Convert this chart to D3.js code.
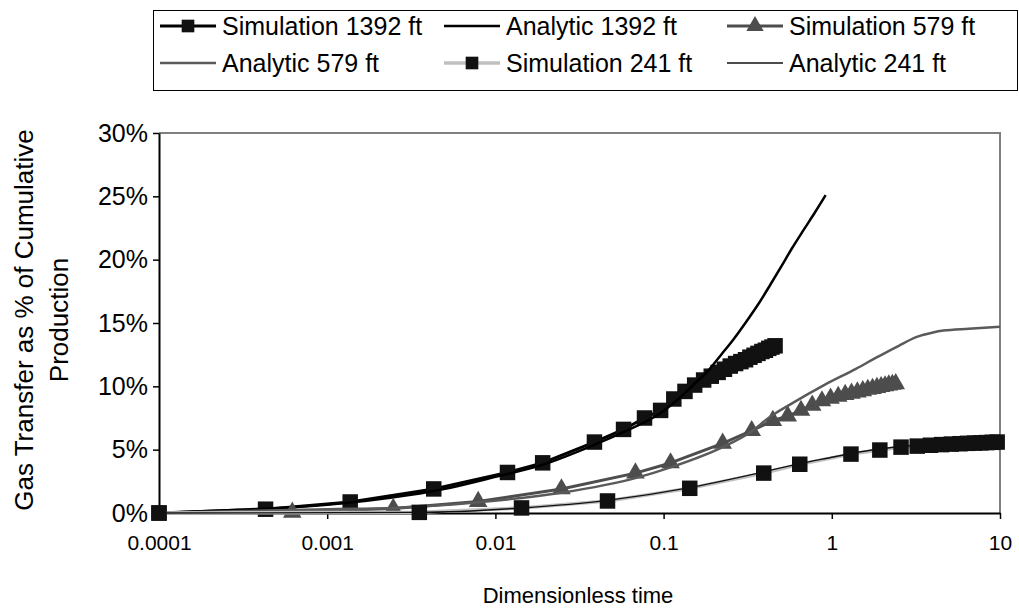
<!DOCTYPE html>
<html>
<head>
<meta charset="utf-8">
<script src="https://cdn.jsdelivr.net/npm/d3@7"></script>
<style>
    body { margin: 0; background: #fff; }
    text { font-family: "Liberation Sans", Arial, sans-serif; fill: #000; }
</style>
</head>
<body>
<svg id="chart" width="1019" height="610"></svg>
<script>
// values (time is dimensionless, y in %)
const xTicks = [0.0001, 0.001, 0.01, 0.1, 1, 10];
const xTickLabels = ["0.0001", "0.001", "0.01", "0.1", "1", "10"];
const yTicks = [0, 5, 10, 15, 20, 25, 30];

const sim1392T = [0.0001, 0.00043, 0.00137, 0.0043, 0.0118, 0.0191, 0.0388, 0.0578, 0.077, 0.096,
    0.115, 0.134, 0.153, 0.173, 0.192, 0.211, 0.230, 0.249, 0.268, 0.288, 0.307, 0.326, 0.345,
    0.364, 0.384, 0.403, 0.422, 0.441, 0.46];
const sim1392V = [0, 0.3, 0.87, 1.9, 3.2, 3.96, 5.6, 6.6, 7.5, 8.1,
    9.0, 9.6, 10.1, 10.5, 10.8, 11.1, 11.35, 11.6, 11.8, 11.95, 12.1, 12.3, 12.45,
    12.6, 12.75, 12.85, 13.0, 13.1, 13.2];

const ana1392T = [0.0001, 0.0003, 0.001, 0.003, 0.0054, 0.01, 0.019, 0.039, 0.058, 0.096, 0.12, 0.15,
    0.183, 0.22, 0.26, 0.31, 0.366, 0.43, 0.5, 0.58, 0.68, 0.8, 0.92];
const ana1392V = [0, 0.25, 0.65, 1.4, 2.0, 2.85, 3.8, 5.4, 6.4, 7.9, 8.9, 10.1,
    11.2, 12.5, 13.7, 15.1, 16.5, 18.0, 19.45, 20.9, 22.35, 23.8, 25.1];

const sim579T = [0.00062, 0.00247, 0.0079, 0.0247, 0.068, 0.110, 0.2245, 0.334, 0.446, 0.547,
    0.656, 0.765, 0.874, 0.983, 1.092, 1.201, 1.31, 1.419, 1.528, 1.637, 1.746, 1.855, 1.964,
    2.073, 2.182, 2.291, 2.40];
const sim579V = [0.05, 0.35, 0.9, 1.9, 3.15, 3.95, 5.5, 6.5, 7.3, 7.65,
    8.1, 8.5, 8.85, 9.05, 9.2, 9.35, 9.45, 9.55, 9.65, 9.75, 9.82, 9.9, 9.97,
    10.03, 10.1, 10.15, 10.2];

const ana579T = [0.0001, 0.001, 0.0025, 0.0079, 0.0247, 0.068, 0.11, 0.2245, 0.33, 0.43, 0.57, 0.9,
    1.4, 1.8, 2.5, 3.2, 4.0, 4.6, 6.5, 10];
const ana579V = [0, 0.3, 0.4, 0.85, 1.6, 2.75, 3.6, 5.2, 6.4, 7.6, 8.6, 10.1,
    11.4, 12.2, 13.2, 13.9, 14.25, 14.4, 14.55, 14.7];

const sim241T = [0.0001, 0.00353, 0.0143, 0.0464, 0.143, 0.394, 0.645, 1.30, 1.93, 2.58,
    3.22, 3.86, 4.5, 5.14, 5.78, 6.42, 7.06, 7.7, 8.34, 8.98, 9.62];
const sim241V = [0, 0.05, 0.4, 0.95, 1.95, 3.15, 3.85, 4.65, 4.97, 5.2,
    5.28, 5.35, 5.4, 5.44, 5.47, 5.5, 5.52, 5.54, 5.56, 5.58, 5.6];

const ana241T = [0.0001, 0.0035, 0.0143, 0.0464, 0.143, 0.394, 0.645, 1.0, 1.3, 1.93, 2.58, 5, 10];
const ana241V = [0, 0.05, 0.4, 1.0, 2.0, 3.25, 3.9, 4.4, 4.7, 5.05, 5.25, 5.45, 5.65];

const seriesNames = ["Simulation 1392 ft", "Analytic 1392 ft", "Simulation 579 ft",
    "Analytic 579 ft", "Simulation 241 ft", "Analytic 241 ft"];

function zipSeries(ts, vs) {
    return ts.map((t, i) => ({ t: t, v: vs[i] }));
}

// series styling, in the draw order of the original
const series = [
    { name: seriesNames[0], data: zipSeries(sim1392T, sim1392V), stroke: "#000", width: 3, marker: "square", fill: "#111" },
    { name: seriesNames[1], data: zipSeries(ana1392T, ana1392V), stroke: "#000", width: 2.5, marker: null, smooth: true },
    { name: seriesNames[2], data: zipSeries(sim579T, sim579V), stroke: "#4d4d4d", width: 3, marker: "triangle", fill: "#4d4d4d" },
    { name: seriesNames[3], data: zipSeries(ana579T, ana579V), stroke: "#5a5a5a", width: 2.5, marker: null, smooth: true },
    { name: seriesNames[4], data: zipSeries(sim241T, sim241V), stroke: "#c0c0c0", width: 3.5, marker: "square", fill: "#111" },
    { name: seriesNames[5], data: zipSeries(ana241T, ana241V), stroke: "#111", width: 1.4, marker: null, smooth: true }
];

const svg = d3.select("#chart");
const plotLeft = 159, plotRight = 1000, plotTop = 133, plotBottom = 513;

let x = d3.scaleLog().domain([0.0001, 10]).range([plotLeft, plotRight]);
let y = d3.scaleLinear().domain([0, 30]).range([plotBottom, plotTop]);

// plot area frame (grey top and right edge)
svg.append("path")
    .attr("d", `M${plotLeft},${plotTop}H${plotRight}V${plotBottom}`)
    .attr("fill", "none").attr("stroke", "#808080").attr("stroke-width", 2);

// axes
let yAxis = svg.append("g").attr("transform", `translate(${plotLeft},0)`)
    .call(d3.axisLeft(y).tickValues(yTicks).tickFormat(d => d + "%").tickSize(6).tickSizeOuter(0));
let xAxis = svg.append("g").attr("transform", `translate(0,${plotBottom})`)
    .call(d3.axisBottom(x).tickValues(xTicks).tickFormat((d, i) => xTickLabels[i]).tickSize(6).tickSizeOuter(0));

[yAxis, xAxis].forEach(g => {
    g.select(".domain").attr("stroke", "#000").attr("stroke-width", 2);
    g.selectAll(".tick line").attr("stroke", "#000").attr("stroke-width", 1.5);
    g.selectAll(".tick text").attr("fill", "#000");
});
yAxis.selectAll(".tick text").attr("x", -11).attr("font-size", "25px");
xAxis.selectAll(".tick text").attr("y", 22).attr("font-size", "21px");

// series
const plot = svg.append("g");
series.forEach(s => {
    let line = d3.line().x(d => x(d.t)).y(d => y(d.v));
    if (s.smooth) line.curve(d3.curveMonotoneX);
    plot.append("path").datum(s.data)
        .attr("d", line)
        .attr("fill", "none")
        .attr("stroke", s.stroke)
        .attr("stroke-width", s.width)
        .attr("stroke-linejoin", "round");

    if (s.marker) {
        let sym = s.marker === "square" ? d3.symbolSquare : d3.symbolTriangle;
        let size = s.marker === "square" ? 240 : 150;
        plot.selectAll(null).data(s.data).enter().append("path")
            .attr("d", d3.symbol().type(sym).size(size))
            .attr("transform", d => `translate(${x(d.t)},${y(d.v)})`)
            .attr("fill", s.fill);
    }
});

// axis titles
svg.append("text").attr("x", 578).attr("y", 603)
    .attr("text-anchor", "middle").attr("font-size", "22px").text("Dimensionless time");
let yTitle = svg.append("text").attr("transform", "translate(0,320) rotate(-90)")
    .attr("text-anchor", "middle").attr("font-size", "26px");
yTitle.append("tspan").attr("x", 0).attr("y", 33).text("Gas Transfer as % of Cumulative");
yTitle.append("tspan").attr("x", 0).attr("y", 68).text("Production");

// legend
const legend = svg.append("g");
legend.append("rect").attr("x", 153.5).attr("y", 10.5).attr("width", 864).attr("height", 80)
    .attr("fill", "#fff").attr("stroke", "#000").attr("stroke-width", 1);
const legendCols = [160, 444, 727];
const legendRows = [26, 63];
series.forEach((s, i) => {
    let lx = legendCols[i % 3], ly = legendRows[Math.floor(i / 3)];
    let item = legend.append("g").attr("transform", `translate(${lx},${ly})`);
    item.append("line").attr("x1", 0).attr("x2", 56).attr("y1", 0).attr("y2", 0)
        .attr("stroke", s.stroke).attr("stroke-width", s.width);
    if (s.marker) {
        let sym = s.marker === "square" ? d3.symbolSquare : d3.symbolTriangle;
        item.append("path")
            .attr("d", d3.symbol().type(sym).size(s.marker === "square" ? 160 : 130))
            .attr("transform", "translate(28,0)")
            .attr("fill", s.fill);
    }
    item.append("text").attr("x", 62).attr("y", 9).attr("font-size", "25px").text(s.name);
});
</script>
</body>
</html>
